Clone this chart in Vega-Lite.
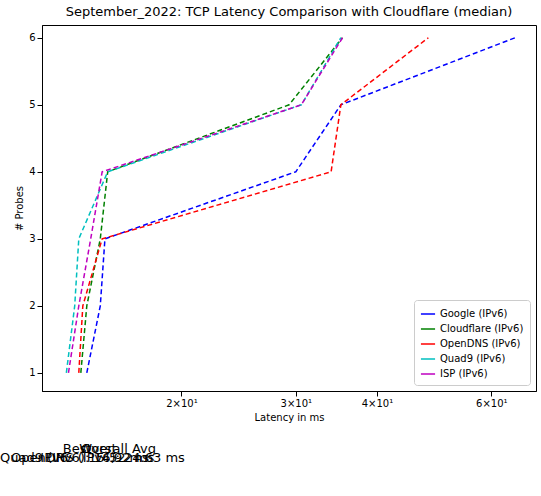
{
  "$schema": "https://vega.github.io/schema/vega-lite/v6.json",
  "padding": {"left": 0, "top": 5, "right": 5, "bottom": 0},
  "config": {
    "font": "DejaVu Sans",
    "view": {"stroke": null},
    "axis": {"grid": false, "labelFontSize": 10, "titleFontSize": 10, "titleFontWeight": "normal", "domainColor": "black", "tickColor": "black", "labelColor": "black", "titleColor": "black"}
  },
  "resolve": {"legend": {"color": "independent"}},
  "vconcat": [
    {
      "width": 494,
      "height": 366,
      "title": {"text": "September_2022: TCP Latency Comparison with Cloudflare (median)", "fontSize": 13, "fontWeight": "normal", "offset": 6},
      "view": {"stroke": "black"},
      "data": {"values": [
        {"series": "Google (IPv6)", "latency": 14.3, "probes": 1},
        {"series": "Google (IPv6)", "latency": 15.0, "probes": 2},
        {"series": "Google (IPv6)", "latency": 15.25, "probes": 3},
        {"series": "Google (IPv6)", "latency": 30.0, "probes": 4},
        {"series": "Google (IPv6)", "latency": 35.2, "probes": 5},
        {"series": "Google (IPv6)", "latency": 65.3, "probes": 6},
        {"series": "Cloudflare (IPv6)", "latency": 14.0, "probes": 1},
        {"series": "Cloudflare (IPv6)", "latency": 14.3, "probes": 2},
        {"series": "Cloudflare (IPv6)", "latency": 15.0, "probes": 3},
        {"series": "Cloudflare (IPv6)", "latency": 15.4, "probes": 4},
        {"series": "Cloudflare (IPv6)", "latency": 29.3, "probes": 5},
        {"series": "Cloudflare (IPv6)", "latency": 35.4, "probes": 6},
        {"series": "OpenDNS (IPv6)", "latency": 13.9, "probes": 1},
        {"series": "OpenDNS (IPv6)", "latency": 14.1, "probes": 2},
        {"series": "OpenDNS (IPv6)", "latency": 15.1, "probes": 3},
        {"series": "OpenDNS (IPv6)", "latency": 34.0, "probes": 4},
        {"series": "OpenDNS (IPv6)", "latency": 35.2, "probes": 5},
        {"series": "OpenDNS (IPv6)", "latency": 48.0, "probes": 6},
        {"series": "Quad9 (IPv6)", "latency": 13.3, "probes": 1},
        {"series": "Quad9 (IPv6)", "latency": 13.7, "probes": 2},
        {"series": "Quad9 (IPv6)", "latency": 13.9, "probes": 3},
        {"series": "Quad9 (IPv6)", "latency": 15.4, "probes": 4},
        {"series": "Quad9 (IPv6)", "latency": 30.6, "probes": 5},
        {"series": "Quad9 (IPv6)", "latency": 35.2, "probes": 6},
        {"series": "ISP (IPv6)", "latency": 13.4, "probes": 1},
        {"series": "ISP (IPv6)", "latency": 13.9, "probes": 2},
        {"series": "ISP (IPv6)", "latency": 14.5, "probes": 3},
        {"series": "ISP (IPv6)", "latency": 15.1, "probes": 4},
        {"series": "ISP (IPv6)", "latency": 30.6, "probes": 5},
        {"series": "ISP (IPv6)", "latency": 35.4, "probes": 6}
      ]},
      "mark": {"type": "line", "strokeDash": [5, 3], "strokeWidth": 1.5, "clip": true},
      "encoding": {
        "x": {"field": "latency", "type": "quantitative", "title": "Latency in ms",
          "scale": {"type": "log", "domain": [12.2, 70.3], "nice": false},
          "axis": {"values": [20, 30, 40, 60], "labelExpr": "datum.value == 20 ? '2×10¹' : datum.value == 30 ? '3×10¹' : datum.value == 40 ? '4×10¹' : '6×10¹'"}},
        "y": {"field": "probes", "type": "quantitative", "title": "# Probes",
          "scale": {"domain": [0.73, 6.19], "nice": false, "zero": false},
          "axis": {"values": [1, 2, 3, 4, 5, 6]}},
        "order": {"field": "probes"},
        "color": {"field": "series", "type": "nominal",
          "sort": ["Google (IPv6)", "Cloudflare (IPv6)", "OpenDNS (IPv6)", "Quad9 (IPv6)", "ISP (IPv6)"],
          "scale": {"domain": ["Google (IPv6)", "Cloudflare (IPv6)", "OpenDNS (IPv6)", "Quad9 (IPv6)", "ISP (IPv6)"], "range": ["#0000ff", "#008000", "#ff0000", "#00bfbf", "#bf00bf"]},
          "legend": {"title": null, "orient": "bottom-right", "symbolType": "stroke", "symbolStrokeDash": [5, 3], "labelFontSize": 10, "strokeColor": "#cccccc", "fillColor": "white", "padding": 6, "cornerRadius": 3, "offset": 6, "symbolSize": 200}}
      }
    },
    {
      "width": 494,
      "height": 40,
      "data": {"values": [
        {"col": "label", "row": "h", "text": ""},
        {"col": "best", "row": "h", "text": "Best"},
        {"col": "worst", "row": "h", "text": "Worst"},
        {"col": "avg", "row": "h", "text": "Overall Avg"},
        {"col": "label", "row": "v", "text": "IPv6:"},
        {"col": "best", "row": "v", "text": "Quad9 (IPv6): 14.92 ms"},
        {"col": "worst", "row": "v", "text": "OpenDNS (IPv6): 24.63 ms"},
        {"col": "avg", "row": "v", "text": "15.52 ms"}
      ]},
      "mark": {"type": "text", "fontSize": 13, "baseline": "middle"},
      "encoding": {
        "x": {"field": "col", "type": "ordinal", "sort": ["label", "best", "worst", "avg"],
          "scale": {"range": [4, 87, 270, 439]}, "axis": null},
        "y": {"field": "row", "type": "ordinal", "sort": ["h", "v"], "scale": {"range": [7, 26]}, "axis": null},
        "text": {"field": "text"},
        "fontWeight": {"condition": {"test": "datum.row == 'h' || datum.col == 'label'", "value": "bold"}, "value": "normal"}
      }
    }
  ],
  "spacing": 14
}
